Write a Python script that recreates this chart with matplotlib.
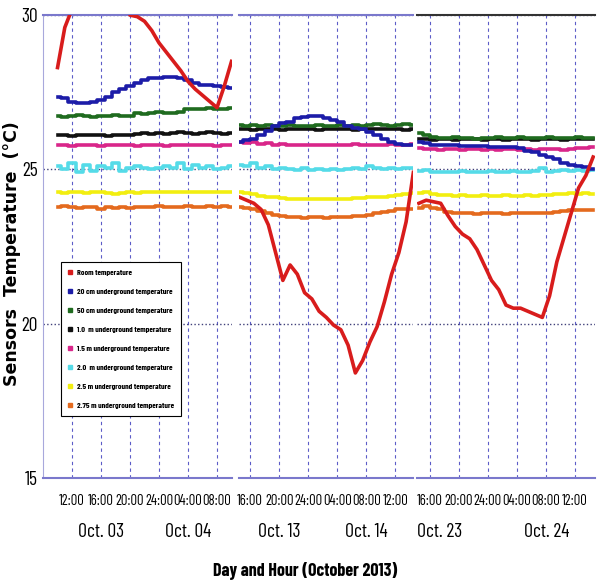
import numpy as np
import matplotlib.pyplot as plt
from matplotlib.lines import Line2D

narrow = ['Barlow Condensed', 'Fira Sans Condensed', 'DejaVu Sans']
plt.rcParams['font.family'] = narrow

# sensor names and colours (legend order)
names = ['Room temperature', '20 cm underground temperature', '50 cm underground temperature',
         '1.0  m underground temperature', '1.5 m underground temperature',
         '2.0  m underground temperature', '2.5 m underground temperature',
         '2.75 m underground temperature']
colors = ['#d81c1c', '#1c1ca8', '#1f6b1f', '#111111', '#d9268a', '#55dbe8', '#f2ee10', '#e46a1e']

# panel 1: Oct 03-04 (hours from Oct 03 00:00)
hours1 = [10, 11, 12, 13, 14, 15, 16, 17, 18, 19, 20, 21, 22, 23, 24, 25, 26, 27, 28, 29, 30, 31, 32, 33, 34]
room1 = [28.3, 29.6, 30.2, 30.9, 31.4, 31.7, 31.8, 31.5, 31.0, 30.5, 30.0, 29.95, 29.8, 29.5, 29.1, 28.8, 28.5, 28.2, 27.85, 27.6, 27.4, 27.2, 27.0, 27.7, 28.5]
cm20_1 = [27.35, 27.3, 27.2, 27.15, 27.15, 27.2, 27.25, 27.35, 27.5, 27.6, 27.7, 27.8, 27.9, 27.95, 27.95, 28.0, 28.0, 27.95, 27.9, 27.8, 27.75, 27.72, 27.7, 27.68, 27.63]
cm50_1 = [26.72, 26.7, 26.72, 26.75, 26.72, 26.7, 26.72, 26.72, 26.75, 26.72, 26.72, 26.82, 26.8, 26.82, 26.85, 26.82, 26.82, 26.85, 26.97, 26.95, 26.97, 27.0, 26.97, 26.97, 26.98]
m10_1 = [26.1, 26.12, 26.08, 26.1, 26.1, 26.12, 26.1, 26.08, 26.1, 26.12, 26.1, 26.15, 26.17, 26.15, 26.17, 26.15, 26.17, 26.2, 26.17, 26.15, 26.17, 26.2, 26.17, 26.15, 26.17]
m15_1 = [25.78, 25.8, 25.75, 25.78, 25.8, 25.78, 25.75, 25.78, 25.8, 25.78, 25.78, 25.75, 25.78, 25.8, 25.78, 25.75, 25.78, 25.8, 25.78, 25.78, 25.8, 25.78, 25.75, 25.78, 25.8]
m20_1 = [25.1, 25.0, 25.2, 24.9, 25.15, 24.95, 25.1, 25.05, 25.2, 24.95, 25.05, 25.1, 25.05, 25.0, 25.05, 25.1, 25.05, 25.2, 25.0, 25.15, 25.05, 25.1, 25.0, 25.05, 25.1]
m25_1 = [24.25, 24.22, 24.27, 24.25, 24.22, 24.25, 24.25, 24.22, 24.2, 24.22, 24.25, 24.22, 24.25, 24.27, 24.25, 24.25, 24.28, 24.25, 24.27, 24.25, 24.28, 24.25, 24.27, 24.25, 24.27]
m275_1 = [23.77, 23.8, 23.77, 23.75, 23.77, 23.78, 23.72, 23.77, 23.75, 23.77, 23.75, 23.77, 23.78, 23.77, 23.8, 23.77, 23.78, 23.77, 23.8, 23.78, 23.77, 23.8, 23.78, 23.8, 23.78]

# panel 2: Oct 13-14 (hours from Oct 13 00:00)
hours2 = [14.5, 15.5, 16.5, 17.5, 18.5, 19.5, 20.5, 21.5, 22.5, 23.5, 24.5, 25.5, 26.5, 27.5, 28.5, 29.5, 30.5, 31.5, 32.5, 33.5, 34.5, 35.5, 36.5, 37.5, 38.5]
room2 = [24.1, 24.0, 23.9, 23.7, 23.2, 22.3, 21.4, 21.9, 21.6, 21.0, 20.8, 20.4, 20.2, 19.95, 19.8, 19.3, 18.4, 18.8, 19.4, 19.9, 20.7, 21.6, 22.3, 23.3, 24.9]
cm20_2 = [25.9, 25.95, 26.0, 26.1, 26.25, 26.4, 26.5, 26.55, 26.65, 26.7, 26.72, 26.72, 26.65, 26.6, 26.52, 26.42, 26.35, 26.3, 26.22, 26.1, 25.98, 25.88, 25.82, 25.8, 25.78]
cm50_2 = [26.45, 26.4, 26.45, 26.42, 26.45, 26.4, 26.42, 26.45, 26.42, 26.4, 26.42, 26.45, 26.42, 26.4, 26.45, 26.42, 26.45, 26.42, 26.45, 26.48, 26.45, 26.42, 26.45, 26.48, 26.45]
m10_2 = [26.32, 26.3, 26.28, 26.3, 26.32, 26.3, 26.28, 26.3, 26.3, 26.32, 26.3, 26.28, 26.3, 26.32, 26.3, 26.3, 26.28, 26.3, 26.32, 26.3, 26.3, 26.32, 26.3, 26.28, 26.3]
m15_2 = [25.88, 25.85, 25.88, 25.82, 25.85, 25.8, 25.82, 25.8, 25.78, 25.8, 25.8, 25.78, 25.8, 25.8, 25.78, 25.8, 25.82, 25.8, 25.8, 25.78, 25.8, 25.82, 25.8, 25.8, 25.82]
m20_2 = [25.15, 25.1, 25.2, 25.05, 25.1, 25.0, 25.05, 25.0, 24.98, 25.05, 24.98, 25.0, 24.97, 25.0, 24.98, 25.0, 25.05, 25.0, 25.1, 25.05, 25.0, 25.05, 25.0, 25.05, 25.05]
m25_2 = [24.25, 24.22, 24.2, 24.15, 24.12, 24.1, 24.08, 24.05, 24.05, 24.03, 24.05, 24.05, 24.03, 24.05, 24.05, 24.05, 24.07, 24.08, 24.1, 24.1, 24.12, 24.15, 24.18, 24.2, 24.22]
m275_2 = [23.78, 23.75, 23.72, 23.65, 23.58, 23.52, 23.48, 23.45, 23.45, 23.43, 23.45, 23.45, 23.43, 23.45, 23.45, 23.47, 23.48, 23.5, 23.52, 23.58, 23.62, 23.65, 23.7, 23.72, 23.72]

# panel 3: Oct 23-24 (hours from Oct 23 00:00)
hours3 = [14.5, 15.5, 16.5, 17.5, 18.5, 19.5, 20.5, 21.5, 22.5, 23.5, 24.5, 25.5, 26.5, 27.5, 28.5, 29.5, 30.5, 31.5, 32.5, 33.5, 34.5, 35.5, 36.5, 37.5, 38.5]
room3 = [23.9, 24.0, 23.95, 23.9, 23.5, 23.15, 22.9, 22.75, 22.4, 21.9, 21.4, 21.1, 20.6, 20.5, 20.5, 20.4, 20.3, 20.2, 20.9, 22.0, 22.8, 23.6, 24.4, 24.8, 25.4]
cm20_3 = [25.88, 25.84, 25.8, 25.78, 25.78, 25.78, 25.77, 25.77, 25.76, 25.75, 25.74, 25.73, 25.72, 25.71, 25.68, 25.6, 25.55, 25.48, 25.4, 25.32, 25.22, 25.15, 25.1, 25.07, 25.02]
cm50_3 = [26.17, 26.12, 26.05, 26.02, 26.02, 26.05, 26.02, 26.02, 26.0, 26.02, 26.02, 26.05, 26.02, 26.02, 26.05, 26.02, 26.02, 26.02, 26.05, 26.02, 26.02, 26.02, 26.05, 26.02, 26.02]
m10_3 = [25.97, 25.97, 25.95, 25.97, 25.97, 25.95, 25.97, 25.97, 25.97, 25.95, 25.97, 25.97, 25.95, 25.97, 25.97, 25.97, 25.95, 25.97, 25.97, 25.97, 25.95, 25.97, 25.97, 25.97, 25.97]
m15_3 = [25.68, 25.65, 25.65, 25.62, 25.65, 25.65, 25.62, 25.65, 25.65, 25.62, 25.65, 25.62, 25.65, 25.65, 25.62, 25.65, 25.62, 25.65, 25.65, 25.65, 25.62, 25.65, 25.68, 25.7, 25.72]
m20_3 = [24.95, 24.97, 24.93, 24.9, 24.93, 24.9, 24.95, 24.92, 24.9, 24.93, 24.95, 24.92, 24.93, 24.95, 24.9, 24.93, 24.95, 25.05, 24.93, 24.95, 24.97, 24.95, 24.97, 24.95, 24.97]
m25_3 = [24.22, 24.25, 24.2, 24.18, 24.17, 24.15, 24.17, 24.15, 24.15, 24.17, 24.15, 24.15, 24.17, 24.15, 24.15, 24.17, 24.15, 24.18, 24.17, 24.2, 24.2, 24.22, 24.2, 24.22, 24.2]
m275_3 = [23.75, 23.8, 23.75, 23.7, 23.62, 23.58, 23.57, 23.57, 23.55, 23.57, 23.57, 23.57, 23.55, 23.57, 23.57, 23.57, 23.58, 23.58, 23.6, 23.62, 23.65, 23.67, 23.67, 23.67, 23.67]

# tick positions / labels
ticks1 = [12, 16, 20, 24, 28, 32]
labels1 = ['12:00', '16:00', '20:00', '24:00', '04:00', '08:00']
ticks23 = [16, 20, 24, 28, 32, 36]
labels23 = ['16:00', '20:00', '24:00', '04:00', '08:00', '12:00']
days = [['Oct. 03', 'Oct. 04'], ['Oct. 13', 'Oct. 14'], ['Oct. 23', 'Oct. 24']]
day_pos = [[16, 28], [20, 32], [17.4, 32.1]]

panels = [
    (hours1, [room1, cm20_1, cm50_1, m10_1, m15_1, m20_1, m25_1, m275_1]),
    (hours2, [room2, cm20_2, cm50_2, m10_2, m15_2, m20_2, m25_2, m275_2]),
    (hours3, [room3, cm20_3, cm50_3, m10_3, m15_3, m20_3, m25_3, m275_3]),
]

fig = plt.figure(figsize=(5.98, 5.82), dpi=100)
boxes = [[0.072, 0.179, 0.316, 0.795],
         [0.400, 0.179, 0.291, 0.795],
         [0.697, 0.179, 0.298, 0.795]]
xlims = [(8.0, 34.07), (14.48, 38.48), (14.21, 38.76)]
frame = '#7a78cc'

for k, (hours, series) in enumerate(panels):
    ax = fig.add_axes(boxes[k])
    for i in reversed(range(len(series))):
        if i == 0:
            ax.plot(hours, series[i], color=colors[i], lw=2.6, zorder=5)
        else:
            ax.plot(hours, series[i], color=colors[i], lw=2.6, drawstyle='steps-mid', zorder=3)
    ax.set_xlim(*xlims[k])
    ax.set_ylim(15, 30)
    ax.set_yticks([15, 20, 25, 30])
    ax.yaxis.grid(True, ls=':', color='#40407a', lw=1.0)
    if k == 0:
        ax.set_xticks(ticks1, labels1)
        ax.tick_params(axis='y', length=0, pad=4, labelsize=14)
        ax.spines['left'].set_color('#a8a8dc')
    else:
        ax.set_xticks(ticks23, labels23)
        ax.tick_params(axis='y', length=0, labelleft=False)
        ax.spines['left'].set_visible(False)
    ax.xaxis.grid(True, ls=(0, (3, 3)), color='#5c5cc8', lw=0.8)
    ax.tick_params(axis='x', length=0, pad=12, labelsize=10.5)
    ax.spines['right'].set_visible(False)
    ax.spines['bottom'].set_color(frame)
    ax.spines['bottom'].set_linewidth(1.5)
    ax.spines['top'].set_color('#333333' if k == 2 else frame)
    ax.spines['top'].set_linewidth(1.5)
    for d, pos in zip(days[k], day_pos[k]):
        ax.text(pos, -0.118, d, transform=ax.get_xaxis_transform(),
                ha='center', va='center', fontsize=14)

handles = [Line2D([], [], ls='none', marker='s', markersize=3.0, color=c) for c in colors]
leg = fig.legend(handles, names, loc='upper left', bbox_to_anchor=(0.102, 0.55),
                 prop={'weight': 'bold', 'size': 5.9}, frameon=True, fancybox=False,
                 edgecolor='black', framealpha=1, labelspacing=1.5,
                 handlelength=0.6, handletextpad=0.45, borderpad=0.85, borderaxespad=0)
leg.get_frame().set_linewidth(0.8)

fig.text(0.02, 0.565, 'Sensors  Temperature  (\u00b0C)', rotation=90, ha='center', va='center',
         fontsize=12.5, fontweight='bold', family='DejaVu Sans')
fig.text(0.51, 0.019, 'Day and Hour (October 2013)', ha='center', va='center',
         fontsize=13, fontweight='bold')

fig.savefig('out.png', dpi=100)
